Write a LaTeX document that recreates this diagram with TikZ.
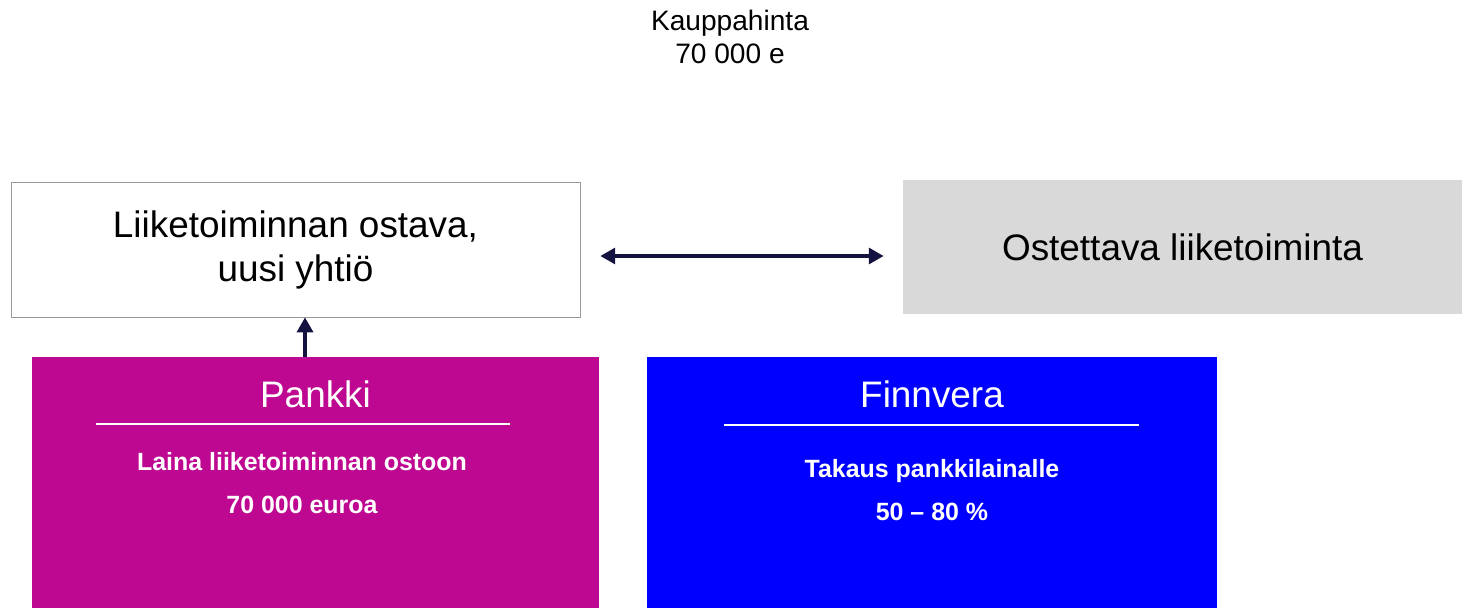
\documentclass[tikz,border=0pt]{standalone}
\usepackage{fontspec}
\setmainfont{Liberation Sans}
\usetikzlibrary{positioning}
\usetikzlibrary{arrows.meta}
\definecolor{pankkivari}{RGB}{190,8,145}
\definecolor{finnvari}{RGB}{0,0,255}
\definecolor{kohdevari}{RGB}{217,217,217}
\definecolor{nuolivari}{RGB}{20,18,62}
\tikzset{x=0.02cm,y=-0.02cm}
\tikzset{>={Triangle[length=8.5pt,width=9pt]}}
\tikzset{lohko/.style={minimum width=11.38cm, minimum height=2.7cm, inner sep=0pt, align=center, font=\fontsize{21}{25}\selectfont}}
\tikzset{rahoittaja/.style={minimum width=11.4cm, minimum height=5.02cm, inner sep=0pt}}
\tikzset{otsikko/.style={text=white, font=\fontsize{21}{25}\selectfont}}
\tikzset{sisalto/.style={text=white, align=center, font=\bfseries\fontsize{14.2}{24}\selectfont}}
\tikzset{viiva/.style={white, line width=1.1pt}}
\tikzset{nuoli/.style={nuolivari, line width=2.3pt}}

\begin{document}
\begin{tikzpicture}
    \useasboundingbox (0,0) rectangle (1462,608);

    \node[align=center, font=\fontsize{16}{19}\selectfont] (hinta) at (730,37) {Kauppahinta\\70 000 e};

    \node[lohko, draw=gray!80, fill=white] (ostaja) at (295.5,249.5) {Liiketoiminnan ostava,\\uusi yhtiö};
    \node[lohko, fill=kohdevari, minimum width=11.18cm] (kohde) at (1182.5,247) {Ostettava liiketoiminta};

    \node[rahoittaja, fill=pankkivari, minimum width=11.34cm] (pankki) at (315.5,482.5) {};
    \node[rahoittaja, fill=finnvari] (finnvera) at (932,482.5) {};

    \node[otsikko] (pankkiotsikko) at (315.5,394) {Pankki};
    \draw[viiva] (96,424) -- (510,424);
    \node[sisalto] (laina) at (302,483) {Laina liiketoiminnan ostoon\\70 000 euroa};

    \node[otsikko] (finnotsikko) at (932,394) {Finnvera};
    \draw[viiva] (724,425) -- (1139,425);
    \node[sisalto] (takaus) at (932,490) {Takaus pankkilainalle\\50 -- 80 \%};

    \draw[nuoli, <->, shorten <=20*0.02cm, shorten >=19*0.02cm]
        ([yshift=-3.7pt]ostaja.east) -- ([yshift=-3.7pt]ostaja.east -| kohde.west);
    \draw[nuoli, ->] ([xshift=-0.21cm]pankki.north) -- ([xshift=-0.21cm]pankki.north |- ostaja.south);
\end{tikzpicture}
\end{document}
